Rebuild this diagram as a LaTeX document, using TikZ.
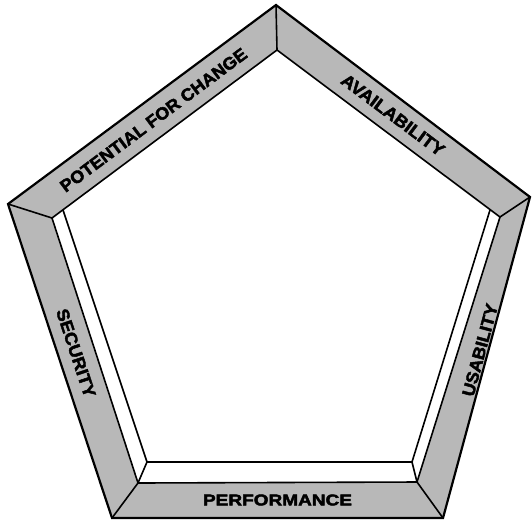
\documentclass[tikz,border=0pt]{standalone}
\usepackage{graphicx}
\usepackage{fontspec}
\setmainfont{Liberation Sans}
\newfontfamily\heavyfont[BoldFeatures={FakeBold=2.5}]{Liberation Sans}
\begin{document}
\begin{tikzpicture}[x=1pt,y=-1pt,
  bandfill/.style={fill=black!28},
  outerline/.style={draw=black,line width=2.2pt,line join=miter},
  innerline/.style={draw=black,line width=1.6pt,line join=miter},
  lbl/.style={inner sep=0pt,font=\heavyfont\bfseries}]
\useasboundingbox (0,0) rectangle (532,523);
% outer pentagon
\coordinate (OT) at (276,5);
\coordinate (OR) at (530,197);
\coordinate (OBR) at (443,518);
\coordinate (OBL) at (112,518);
\coordinate (OL) at (8,204);
% inner edge of shaded band
\coordinate (IT) at (277,50);
\coordinate (IR) at (500,217);
\coordinate (IBR) at (417,482);
\coordinate (IBL) at (138,483);
\coordinate (IL) at (52,218);
% inner recess
\coordinate (JL) at (63,210);
\coordinate (JR) at (490,210);
\coordinate (JBR) at (412,462);
\coordinate (JBL) at (147,462);
\fill[bandfill,even odd rule] (OT)--(OR)--(OBR)--(OBL)--(OL)--cycle
  (IT)--(IR)--(IBR)--(IBL)--(IL)--cycle;
\draw[outerline] (OT)--(OR)--(OBR)--(OBL)--(OL)--cycle;
\draw[innerline] (IT)--(IR)--(IBR)--(IBL)--(IL)--cycle;
\draw[innerline] (OT)--(IT) (OR)--(IR) (OBR)--(IBR) (OBL)--(IBL) (OL)--(IL);
\draw[innerline] (JL)--(JBL)--(JBR)--(JR);
\draw[innerline] (JBL)--(IBL) (JBR)--(IBR);
% labels
\node[lbl,rotate=36.7] (pfc) at (153.5,120) {\resizebox{228pt}{12pt}{POTENTIAL FOR CHANGE}};
\node[lbl,rotate=-36.8] (avl) at (393,115) {\resizebox{124pt}{12pt}{AVAILABILITY}};
\node[lbl,rotate=74.9] (usb) at (480,350) {\resizebox{95pt}{12pt}{USABILITY}};
\node[lbl,rotate=-71.7] (sec) at (76,353) {\resizebox{92pt}{12pt}{SECURITY}};
\node[lbl] (prf) at (277.5,500) {\resizebox{149pt}{11pt}{PERFORMANCE}};
\end{tikzpicture}
\end{document}
